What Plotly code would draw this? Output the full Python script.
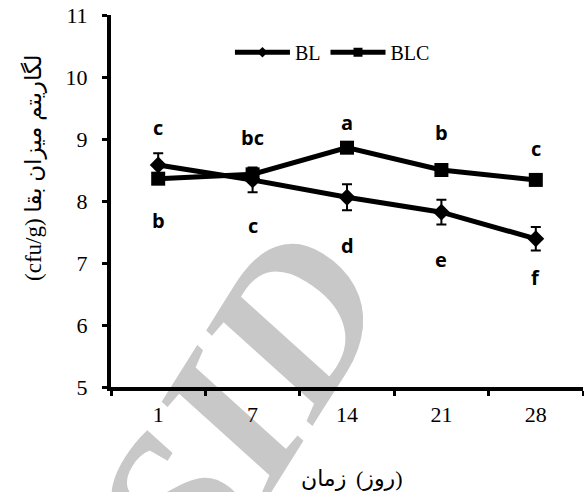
import plotly.graph_objects as go

# Storage time (days) and survival counts, log cfu/g
days = ["1", "7", "14", "21", "28"]
bl_values = [8.58, 8.34, 8.06, 7.82, 7.39]
bl_errors = [0.19, 0.20, 0.21, 0.20, 0.19]
blc_values = [8.36, 8.43, 8.86, 8.50, 8.34]

# Significance letters and the heights they are written at
blc_letters = ["c", "bc", "a", "b", "c"]
blc_letter_y = [9.19, 9.02, 9.27, 9.10, 8.85]
bl_letters = ["b", "c", "d", "e", "f"]
bl_letter_y = [7.69, 7.60, 7.29, 7.06, 6.77]

serif = "Liberation Serif, Times New Roman, DejaVu Serif"
arabic = "Liberation Serif, DejaVu Sans"
letter_font = dict(family="Open Sans, Lato, Arial", size=20, color="black", weight="bold")

fig = go.Figure()

fig.add_trace(go.Scatter(
    x=days, y=bl_values, mode="lines+markers", name="BL", showlegend=False,
    line=dict(color="black", width=5),
    marker=dict(symbol="diamond", size=13, color="black"),
    error_y=dict(type="data", array=bl_errors, color="black", thickness=2, width=5),
))
fig.add_trace(go.Scatter(
    x=days, y=blc_values, mode="lines+markers", name="BLC", showlegend=False,
    line=dict(color="black", width=5),
    marker=dict(symbol="square", size=14, color="black"),
))

# legend entries with smaller symbols
fig.add_trace(go.Scatter(
    x=[None], y=[None], mode="lines+markers", name="BL",
    line=dict(color="black", width=5),
    marker=dict(symbol="diamond", size=8, color="black"),
))
fig.add_trace(go.Scatter(
    x=[None], y=[None], mode="lines+markers", name="BLC",
    line=dict(color="black", width=5),
    marker=dict(symbol="square", size=9, color="black"),
))

# letters are placed by category index on the x axis
for i, (t, y) in enumerate(zip(blc_letters, blc_letter_y)):
    fig.add_annotation(x=i, y=y, text=t, showarrow=False, font=letter_font,
                       xanchor="center", yanchor="middle")
for i, (t, y) in enumerate(zip(bl_letters, bl_letter_y)):
    fig.add_annotation(x=i, y=y, text=t, showarrow=False, font=letter_font,
                       xanchor="center", yanchor="middle")

# y-axis title
fig.add_annotation(xref="paper", yref="paper", x=-0.163, y=0.589,
                   text="(cfu/g) لگاریتم میزان بقا", textangle=-90, showarrow=False,
                   font=dict(family=arabic, size=23, color="black"),
                   xanchor="center", yanchor="middle")
# x-axis title, written as two runs side by side
x_title_font = dict(family=arabic, size=22, color="black")
fig.add_annotation(xref="paper", yref="paper", x=0.508, y=-0.245, xshift=-3,
                   text="زمان", showarrow=False, font=x_title_font,
                   xanchor="right", yanchor="middle")
fig.add_annotation(xref="paper", yref="paper", x=0.508, y=-0.245, xshift=3,
                   text="(روز)", showarrow=False, font=x_title_font,
                   xanchor="left", yanchor="middle")

# background watermark, kept beneath the axes
fig.add_shape(type="rect", xref="paper", yref="paper", layer="below",
              x0=-0.17, x1=0.63, y0=-0.42, y1=0.38,
              line=dict(width=0), fillcolor="rgba(0,0,0,0)",
              label=dict(text="SID", textangle=-58, textposition="middle center",
                         font=dict(family=serif, size=215, color="#c8c8c8",
                                   style="italic", weight="bold")))

fig.update_xaxes(
    type="category", range=[-0.5, 4.5], tickson="boundaries",
    showline=True, linecolor="black", linewidth=4,
    ticks="outside", ticklen=5, tickwidth=3, tickcolor="black",
    showgrid=False, zeroline=False, ticklabelstandoff=5,
    tickfont=dict(family=serif, size=22, color="black"),
)
fig.update_yaxes(
    range=[5, 11], dtick=1, tick0=5,
    showline=True, linecolor="black", linewidth=4,
    ticks="outside", ticklen=5, tickwidth=3, tickcolor="black",
    showgrid=False, zeroline=False, ticklabelstandoff=10,
    tickfont=dict(family=serif, size=22, color="black"),
)

fig.update_layout(
    width=584, height=492,
    margin=dict(l=111, r=1, t=15, b=105),
    paper_bgcolor="white", plot_bgcolor="white",
    legend=dict(orientation="h", x=0.252, y=0.90, xanchor="left", yanchor="middle",
                font=dict(family=serif, size=20, color="black"),
                bgcolor="rgba(0,0,0,0)", itemwidth=55, tracegroupgap=0),
)

fig.write_html("out.html")
